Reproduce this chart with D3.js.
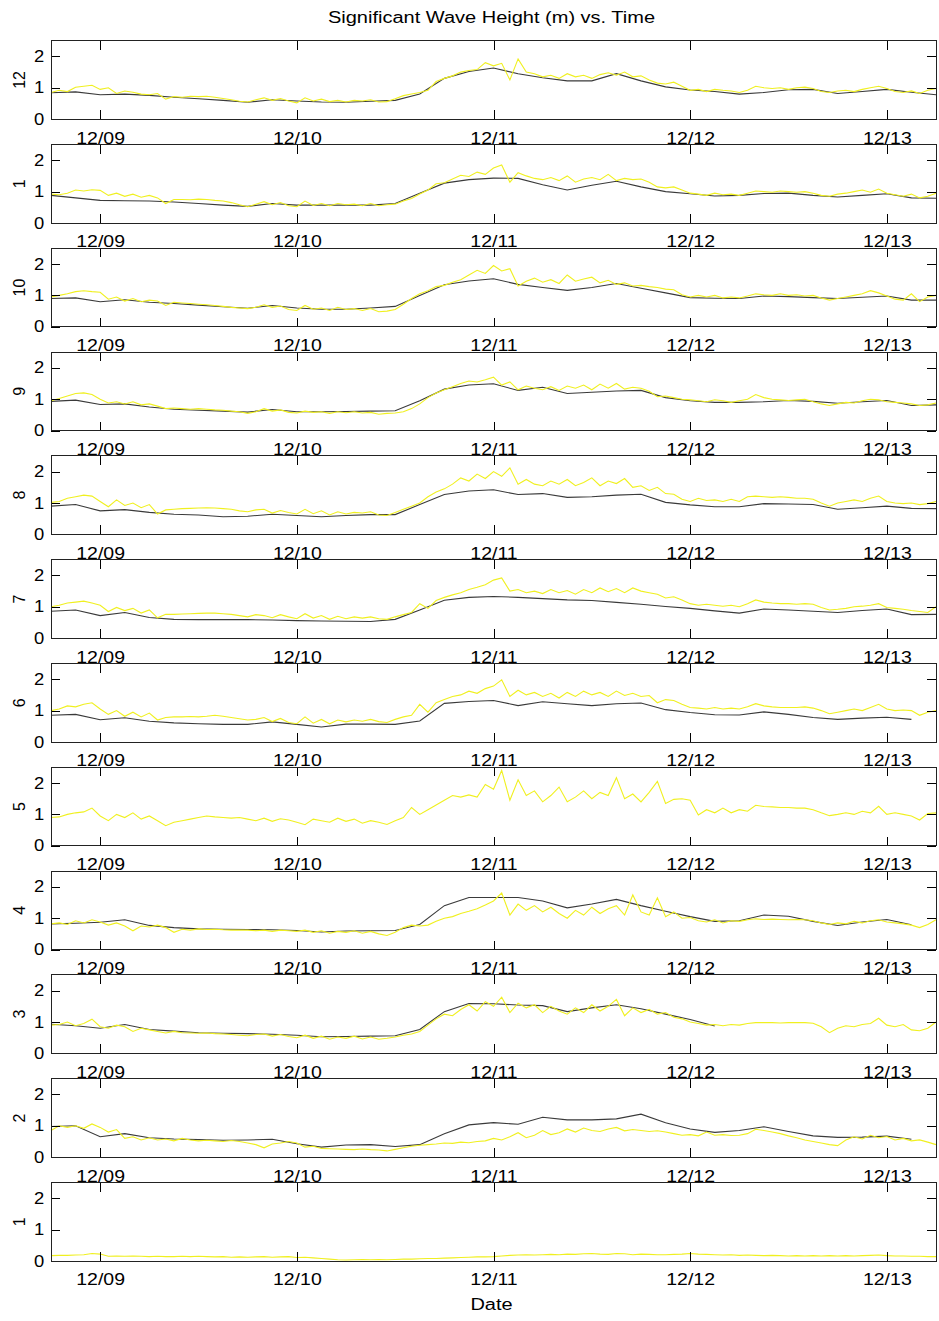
<!DOCTYPE html>
<html><head><meta charset="utf-8">
<script src="https://cdn.jsdelivr.net/npm/d3@7"></script>
<style>
body{margin:0;background:#fff}
svg{display:block}
text{font-family:"Liberation Sans",Arial,Helvetica,sans-serif}
</style>
</head><body>
<svg id="chart" width="939" height="1321"></svg>
<script>
// ---------- data ----------
const chartTitle = "Significant Wave Height (m) vs. Time";
const xAxisTitle = "Date";
const panelLabels = ["12","1","10","9","8","7","6","5","4","3","2","1"];
const xTickDates = ["2009-12-09","2009-12-10","2009-12-11","2009-12-12","2009-12-13"];
const xTickLabels = ["12/09","12/10","12/11","12/12","12/13"];
const yTickValues = [0, 1, 2];
const yTickLabels = ["0", "1", "2"];
const timeStart = "2009-12-08T18:00:00Z";
const timeEnd = "2009-12-13T06:00:00Z";
const obsStepHours = 1;   // observed (yellow) sampling
const modStepHours = 3;   // model (black) sampling

// panel "12"
const obs_p01 = [0.85,0.92,0.88,1.02,1.05,1.08,0.95,1.00,0.82,0.90,0.86,0.80,
 0.78,0.82,0.64,0.72,0.70,0.73,0.72,0.73,0.70,0.66,0.62,0.57,
 0.55,0.62,0.68,0.60,0.66,0.58,0.52,0.68,0.58,0.64,0.56,0.60,
 0.55,0.60,0.58,0.62,0.55,0.56,0.65,0.75,0.80,0.85,0.92,1.20,
 1.30,1.38,1.50,1.55,1.58,1.80,1.70,1.78,1.25,1.92,1.50,1.45,
 1.35,1.40,1.30,1.45,1.35,1.40,1.30,1.42,1.48,1.40,1.50,1.35,
 1.38,1.25,1.15,1.12,1.18,1.05,0.92,0.95,0.88,0.95,0.92,0.90,
 0.85,0.92,1.05,1.00,0.98,1.00,0.95,1.00,1.02,0.98,0.88,0.85,
 0.90,0.92,0.88,0.95,1.00,1.05,0.98,0.88,0.85,0.90,0.82,0.92,
 0.98];
const mod_p01 = [0.84,0.87,0.78,0.80,0.76,0.70,0.65,0.60,0.54,0.62,0.58,0.55,0.54,0.57,0.60,0.80,1.30,1.52,1.63,1.45,1.32,1.22,1.22,1.45,1.22,1.03,0.93,0.88,0.80,0.85,0.94,0.95,0.82,0.88,0.95,0.86,0.78];

// panel "1"
const obs_p02 = [0.92,0.90,0.95,1.05,1.02,1.06,1.04,0.88,0.95,0.85,0.92,0.82,
 0.88,0.80,0.62,0.75,0.75,0.74,0.76,0.75,0.72,0.70,0.65,0.58,
 0.52,0.60,0.68,0.58,0.65,0.55,0.52,0.70,0.56,0.62,0.55,0.62,
 0.58,0.60,0.55,0.62,0.55,0.58,0.60,0.70,0.78,0.92,1.05,1.25,
 1.28,1.40,1.52,1.48,1.62,1.55,1.75,1.85,1.30,1.60,1.50,1.42,
 1.38,1.45,1.35,1.50,1.30,1.40,1.45,1.38,1.55,1.35,1.42,1.38,
 1.40,1.30,1.15,1.12,1.15,1.05,0.95,0.92,0.88,0.95,0.90,0.92,
 0.88,0.95,1.02,1.00,0.98,1.02,1.00,0.98,1.00,0.95,0.88,0.85,
 0.92,0.95,1.00,1.05,0.98,1.08,0.95,0.90,0.85,0.92,0.80,0.85,
 0.95];
const mod_p02 = [0.88,0.80,0.72,0.71,0.70,0.67,0.62,0.57,0.53,0.62,0.57,0.57,0.57,0.57,0.62,0.95,1.27,1.38,1.43,1.42,1.22,1.05,1.20,1.33,1.15,1.00,0.93,0.86,0.88,0.94,0.95,0.88,0.83,0.88,0.93,0.80,0.79];

// panel "10"
const obs_p03 = [0.95,1.00,1.05,1.12,1.15,1.12,1.10,0.88,0.95,0.82,0.90,0.80,
 0.85,0.82,0.68,0.78,0.76,0.74,0.72,0.70,0.68,0.65,0.62,0.60,
 0.58,0.62,0.70,0.62,0.66,0.55,0.52,0.68,0.56,0.60,0.52,0.62,
 0.55,0.58,0.52,0.58,0.48,0.50,0.55,0.72,0.90,1.05,1.15,1.28,
 1.32,1.42,1.50,1.65,1.80,1.70,1.95,1.78,1.85,1.30,1.45,1.55,
 1.42,1.50,1.38,1.65,1.45,1.52,1.58,1.40,1.48,1.35,1.40,1.30,
 1.32,1.28,1.25,1.20,1.18,1.02,0.95,1.00,0.95,1.00,0.92,0.95,
 0.92,0.98,1.05,1.02,1.00,1.05,1.00,1.02,0.98,1.00,0.92,0.85,
 0.90,0.95,1.00,1.05,1.15,1.08,0.98,0.88,0.85,1.05,0.80,0.95,
 1.00];
const mod_p03 = [0.90,0.92,0.80,0.86,0.78,0.74,0.69,0.64,0.59,0.68,0.60,0.56,0.56,0.60,0.65,1.00,1.34,1.46,1.53,1.35,1.25,1.16,1.25,1.38,1.23,1.08,0.93,0.91,0.90,0.98,0.96,0.93,0.90,0.94,0.98,0.85,0.85];

// panel "9"
const obs_p04 = [0.95,1.02,1.10,1.18,1.20,1.15,1.00,0.88,0.92,0.85,0.92,0.82,
 0.85,0.78,0.70,0.72,0.70,0.68,0.70,0.68,0.66,0.65,0.62,0.60,
 0.55,0.60,0.70,0.62,0.66,0.58,0.56,0.62,0.58,0.60,0.55,0.60,
 0.57,0.60,0.56,0.58,0.52,0.55,0.56,0.60,0.70,0.85,1.05,1.20,
 1.30,1.40,1.50,1.58,1.55,1.62,1.70,1.45,1.55,1.30,1.42,1.35,
 1.30,1.40,1.28,1.42,1.35,1.45,1.30,1.48,1.35,1.50,1.32,1.38,
 1.35,1.25,1.08,1.10,1.05,1.00,0.98,0.95,0.92,0.98,0.95,0.90,
 0.95,1.00,1.15,1.05,1.00,0.98,0.96,0.98,1.00,0.92,0.85,0.80,
 0.85,0.90,0.88,0.95,1.00,0.98,0.92,0.90,0.88,0.85,0.80,0.82,
 0.88];
const mod_p04 = [0.93,0.97,0.83,0.85,0.75,0.68,0.65,0.62,0.59,0.67,0.60,0.60,0.61,0.62,0.63,0.95,1.32,1.45,1.49,1.28,1.38,1.18,1.22,1.26,1.28,1.05,0.95,0.90,0.90,0.92,0.96,0.93,0.87,0.92,0.96,0.80,0.82];

// panel "8"
const obs_p05 = [1.02,1.05,1.15,1.20,1.25,1.22,1.05,0.88,1.10,0.92,1.00,0.85,
 0.95,0.65,0.78,0.80,0.82,0.83,0.84,0.85,0.84,0.82,0.80,0.75,
 0.72,0.78,0.80,0.68,0.76,0.70,0.65,0.80,0.66,0.75,0.62,0.72,
 0.65,0.70,0.68,0.72,0.62,0.60,0.70,0.80,0.90,1.00,1.20,1.35,
 1.45,1.60,1.80,1.70,1.92,1.78,2.00,1.85,2.12,1.60,1.75,1.60,
 1.55,1.70,1.60,1.75,1.55,1.65,1.80,1.55,1.70,1.62,1.78,1.50,
 1.55,1.40,1.50,1.30,1.28,1.12,1.05,1.15,1.08,1.10,1.05,1.12,
 1.05,1.20,1.22,1.20,1.18,1.20,1.18,1.15,1.15,1.12,1.00,0.90,
 1.00,1.05,1.10,1.05,1.15,1.22,1.05,1.00,0.98,1.00,0.95,0.98,
 1.05];
const mod_p05 = [0.90,0.95,0.75,0.79,0.70,0.64,0.62,0.56,0.58,0.64,0.60,0.56,0.60,0.63,0.63,0.95,1.27,1.38,1.42,1.27,1.30,1.18,1.20,1.25,1.28,1.02,0.94,0.88,0.88,0.98,0.97,0.95,0.80,0.85,0.90,0.83,0.82];

// panel "7"
const obs_p06 = [1.00,1.05,1.12,1.15,1.18,1.12,1.05,0.85,0.98,0.88,0.95,0.80,
 0.90,0.65,0.76,0.76,0.77,0.78,0.79,0.80,0.80,0.78,0.76,0.72,
 0.68,0.75,0.72,0.65,0.75,0.68,0.62,0.78,0.64,0.72,0.60,0.70,
 0.62,0.68,0.64,0.68,0.62,0.60,0.68,0.75,0.82,1.10,0.95,1.20,
 1.30,1.38,1.45,1.55,1.62,1.70,1.85,1.92,1.50,1.55,1.45,1.50,
 1.42,1.55,1.45,1.52,1.40,1.55,1.45,1.60,1.48,1.58,1.45,1.60,
 1.50,1.45,1.40,1.28,1.32,1.22,1.10,1.05,1.08,1.05,1.02,1.05,
 1.00,1.10,1.22,1.15,1.12,1.10,1.10,1.08,1.10,1.08,0.98,0.90,
 0.92,0.95,1.00,1.02,1.05,1.10,0.98,0.95,0.92,0.88,0.85,0.82,
 1.00];
const mod_p06 = [0.86,0.90,0.72,0.82,0.66,0.60,0.59,0.59,0.59,0.58,0.56,0.55,0.54,0.53,0.60,0.90,1.21,1.30,1.33,1.30,1.26,1.22,1.20,1.14,1.08,1.01,0.95,0.87,0.80,0.93,0.90,0.86,0.82,0.88,0.93,0.75,0.76];

// panel "6"
const obs_p07 = [1.00,1.05,1.15,1.12,1.20,1.25,1.05,0.88,1.00,0.82,0.95,0.80,
 0.92,0.70,0.78,0.80,0.80,0.81,0.80,0.82,0.85,0.82,0.78,0.74,
 0.70,0.72,0.78,0.65,0.75,0.62,0.58,0.80,0.60,0.72,0.58,0.70,
 0.64,0.70,0.66,0.72,0.65,0.62,0.72,0.80,0.85,1.20,0.95,1.25,
 1.35,1.45,1.50,1.62,1.55,1.70,1.78,1.98,1.45,1.65,1.50,1.58,
 1.45,1.55,1.40,1.58,1.45,1.62,1.50,1.58,1.45,1.62,1.48,1.55,
 1.45,1.48,1.25,1.35,1.32,1.20,1.10,1.08,1.05,1.10,1.05,1.08,
 1.05,1.12,1.22,1.15,1.12,1.10,1.10,1.10,1.12,1.08,1.00,0.90,
 0.95,1.00,1.05,1.00,1.10,1.20,1.05,1.00,1.02,1.00,0.85,0.95,
 1.00];
const mod_p07 = [0.85,0.88,0.71,0.77,0.66,0.61,0.58,0.56,0.56,0.64,0.56,0.48,0.57,0.57,0.56,0.67,1.23,1.29,1.32,1.16,1.28,1.22,1.16,1.22,1.24,1.03,0.94,0.87,0.86,0.96,0.88,0.78,0.72,0.76,0.79,0.72,null];

// panel "5" (observed only)
const obs_p08 = [0.90,0.92,1.00,1.05,1.08,1.20,0.95,0.80,1.00,0.90,1.05,0.85,
 0.95,0.80,0.64,0.75,0.80,0.85,0.90,0.95,0.92,0.90,0.88,0.90,
 0.85,0.80,0.88,0.78,0.86,0.82,0.75,0.67,0.85,0.80,0.75,0.88,
 0.78,0.85,0.72,0.80,0.75,0.68,0.80,0.90,1.22,1.00,1.15,1.30,
 1.45,1.60,1.55,1.62,1.55,1.95,1.80,2.40,1.45,2.10,1.60,1.75,
 1.40,1.60,1.87,1.40,1.55,1.75,1.50,1.70,1.60,2.17,1.50,1.65,
 1.40,1.70,2.05,1.35,1.48,1.50,1.45,0.98,1.15,1.05,1.20,1.05,
 1.15,1.10,1.29,1.25,1.24,1.22,1.22,1.20,1.20,1.15,1.05,0.96,
 1.00,1.05,1.00,1.10,1.05,1.26,1.00,1.05,1.00,0.95,0.82,1.03,
 1.05];
const mod_p08 = [];

// panel "4"
const obs_p09 = [0.82,0.85,0.80,0.92,0.85,0.95,0.88,0.78,0.85,0.75,0.60,0.75,
 0.72,0.78,0.70,0.55,0.65,0.62,0.66,0.64,0.65,0.63,0.62,0.62,
 0.62,0.60,0.62,0.58,0.62,0.60,0.58,0.62,0.55,0.60,0.52,0.58,
 0.55,0.60,0.52,0.58,0.50,0.45,0.55,0.70,0.78,0.75,0.78,0.90,
 1.00,1.05,1.15,1.22,1.30,1.42,1.55,1.80,1.10,1.45,1.25,1.40,
 1.20,1.35,1.15,1.00,1.25,1.10,1.35,1.15,1.30,1.40,1.10,1.74,
 1.20,1.10,1.65,1.05,1.20,1.00,1.02,0.92,0.88,0.95,0.85,0.92,
 0.90,0.95,0.98,0.96,0.97,0.96,0.95,0.96,0.95,0.92,0.85,0.80,
 0.85,0.82,0.90,0.85,0.92,0.95,0.88,0.85,0.82,0.78,0.70,0.80,
 0.95];
const mod_p09 = [0.82,0.84,0.87,0.95,0.77,0.70,0.66,0.65,0.64,0.63,0.61,0.56,0.59,0.60,0.61,0.80,1.40,1.66,1.66,1.66,1.55,1.33,1.45,1.60,1.40,1.22,1.05,0.90,0.92,1.10,1.06,0.90,0.77,0.88,0.96,0.79,null];

// panel "3"
const obs_p10 = [0.90,0.92,1.00,0.88,0.95,1.09,0.85,0.80,0.90,0.85,0.70,0.80,
 0.75,0.70,0.65,0.70,0.66,0.65,0.64,0.65,0.63,0.62,0.60,0.58,
 0.56,0.60,0.62,0.55,0.60,0.54,0.50,0.58,0.48,0.55,0.45,0.52,
 0.48,0.55,0.46,0.52,0.45,0.48,0.52,0.58,0.62,0.70,0.90,1.10,
 1.25,1.20,1.40,1.55,1.35,1.65,1.50,1.79,1.30,1.60,1.45,1.55,
 1.30,1.50,1.35,1.25,1.45,1.30,1.55,1.35,1.50,1.72,1.20,1.45,
 1.30,1.40,1.25,1.30,1.15,1.10,1.00,0.95,0.90,0.92,0.88,0.92,
 0.90,0.95,0.98,0.98,0.98,0.97,0.98,0.98,0.98,0.96,0.85,0.66,
 0.80,0.88,0.85,0.92,0.95,1.12,0.90,0.85,0.92,0.75,0.72,0.80,
 1.00];
const mod_p10 = [0.93,0.88,0.80,0.92,0.76,0.71,0.66,0.64,0.63,0.61,0.58,0.53,0.54,0.55,0.56,0.76,1.33,1.59,1.58,1.54,1.52,1.33,1.45,1.55,1.42,1.25,1.08,0.87,null,null,null,null,null,null,null,null,null];

// panel "2"
const obs_p11 = [0.85,1.00,0.95,1.00,0.92,1.06,0.95,0.80,0.88,0.60,0.65,0.55,
 0.62,0.55,0.58,0.52,0.60,0.55,0.52,0.54,0.52,0.50,0.53,0.50,
 0.45,0.40,0.30,0.42,0.45,0.50,0.45,0.32,0.35,0.28,0.27,0.26,
 0.25,0.24,0.26,0.24,0.23,0.20,0.25,0.30,0.35,0.38,0.40,0.42,
 0.45,0.44,0.48,0.46,0.50,0.52,0.60,0.55,0.65,0.78,0.62,0.70,
 0.85,0.72,0.78,0.90,0.80,0.93,0.85,0.82,0.90,0.95,0.84,0.88,
 0.85,0.82,0.84,0.80,0.75,0.70,0.72,0.68,0.80,0.70,0.72,0.69,
 0.70,0.75,0.89,0.85,0.80,0.75,0.68,0.62,0.55,0.50,0.45,0.40,
 0.37,0.55,0.65,0.58,0.70,0.62,0.66,0.55,0.60,0.52,0.55,0.48,
 0.40];
const mod_p11 = [0.98,1.00,0.65,0.75,0.62,0.58,0.56,0.54,0.55,0.57,0.43,0.32,0.39,0.40,0.34,0.40,0.75,1.03,1.10,1.05,1.27,1.19,1.19,1.22,1.37,1.10,0.90,0.79,0.85,0.97,0.82,0.68,0.63,0.64,0.67,0.57,null];

// panel "1" (observed only)
const obs_p12 = [0.17,0.18,0.18,0.19,0.20,0.24,0.22,0.15,0.16,0.15,0.16,0.15,
 0.14,0.15,0.14,0.14,0.15,0.14,0.15,0.14,0.13,0.14,0.12,0.13,
 0.12,0.13,0.14,0.12,0.13,0.14,0.11,0.12,0.10,0.08,0.06,0.04,
 0.03,0.04,0.05,0.04,0.05,0.04,0.05,0.06,0.06,0.07,0.08,0.08,
 0.09,0.10,0.11,0.12,0.13,0.13,0.14,0.16,0.18,0.19,0.20,0.19,
 0.20,0.21,0.20,0.22,0.21,0.23,0.24,0.22,0.21,0.24,0.23,0.20,
 0.22,0.21,0.20,0.20,0.21,0.22,0.24,0.22,0.21,0.20,0.19,0.20,
 0.18,0.19,0.18,0.17,0.18,0.17,0.16,0.17,0.16,0.17,0.16,0.17,
 0.16,0.17,0.16,0.17,0.18,0.19,0.17,0.16,0.16,0.15,0.15,0.14,
 0.14];
const mod_p12 = [];

// ---------- drawing ----------
const panels = [
  {label: panelLabels[0],  obs: obs_p01, mod: mod_p01},
  {label: panelLabels[1],  obs: obs_p02, mod: mod_p02},
  {label: panelLabels[2],  obs: obs_p03, mod: mod_p03},
  {label: panelLabels[3],  obs: obs_p04, mod: mod_p04},
  {label: panelLabels[4],  obs: obs_p05, mod: mod_p05},
  {label: panelLabels[5],  obs: obs_p06, mod: mod_p06},
  {label: panelLabels[6],  obs: obs_p07, mod: mod_p07},
  {label: panelLabels[7],  obs: obs_p08, mod: mod_p08},
  {label: panelLabels[8],  obs: obs_p09, mod: mod_p09},
  {label: panelLabels[9],  obs: obs_p10, mod: mod_p10},
  {label: panelLabels[10], obs: obs_p11, mod: mod_p11},
  {label: panelLabels[11], obs: obs_p12, mod: mod_p12}
];

const svg = d3.select("#chart");
const plotLeft = 51, plotRight = 936;
const top0 = 40.7, pitch = 103.8, panelH = 78.5;
const HOUR = 3600000;
const t0 = new Date(timeStart).getTime();

const x = d3.scaleUtc()
  .domain([new Date(timeStart), new Date(timeEnd)])
  .range([plotLeft, plotRight]);
const xTicks = xTickDates.map(d => new Date(d + "T00:00:00Z"));
const xFmt = (d, i) => xTickLabels[i];

const series = (arr, stepH) => arr.map((v, k) => ({t: new Date(t0 + k * stepH * HOUR), v}));

panels.forEach((p, i) => {
  const top = top0 + i * pitch;
  const y = d3.scaleLinear().domain([0, 2.5]).range([top + panelH, top]);
  const g = svg.append("g");

  const line = d3.line().defined(d => d.v != null).x(d => x(d.t)).y(d => y(d.v));

  if (p.mod.length) {
    g.append("path").datum(series(p.mod, modStepHours))
      .attr("d", line).attr("fill", "none")
      .attr("stroke", "#3a3a3a").attr("stroke-width", 1.1);
  }
  g.append("path").datum(series(p.obs, obsStepHours))
    .attr("d", line).attr("fill", "none")
    .attr("stroke", "#f0f020").attr("stroke-width", 1.1);

  // axes with inward ticks
  const styleAxis = sel => {
    sel.select(".domain").remove();
    sel.selectAll("line").attr("stroke", "#000").attr("shape-rendering", "crispEdges");
    sel.attr("font-size", 16).attr("font-family", '"Liberation Sans", Arial, sans-serif');
    sel.selectAll("text").attr("fill", "#000");
  };

  const gb = g.append("g").attr("transform", `translate(0,${top + panelH})`)
    .call(d3.axisBottom(x).tickValues(xTicks).tickFormat(xFmt)
      .tickSizeInner(-9).tickSizeOuter(0).tickPadding(13));
  styleAxis(gb);
  gb.selectAll("text").attr("transform", "scale(1.22,1)");

  const gt = g.append("g").attr("transform", `translate(0,${top})`)
    .call(d3.axisTop(x).tickValues(xTicks).tickFormat("")
      .tickSizeInner(-9).tickSizeOuter(0));
  styleAxis(gt);

  const gl = g.append("g").attr("transform", `translate(${plotLeft},0)`)
    .call(d3.axisLeft(y).tickValues(yTickValues).tickFormat((d, k) => yTickLabels[k])
      .tickSizeInner(-9).tickSizeOuter(0).tickPadding(6));
  styleAxis(gl);
  gl.selectAll("text").attr("transform", "scale(1.15,1)");

  const gr = g.append("g").attr("transform", `translate(${plotRight},0)`)
    .call(d3.axisRight(y).tickValues(yTickValues).tickFormat("")
      .tickSizeInner(-9).tickSizeOuter(0));
  styleAxis(gr);

  g.append("rect")
    .attr("x", plotLeft).attr("y", top)
    .attr("width", plotRight - plotLeft).attr("height", panelH)
    .attr("fill", "none").attr("stroke", "#222").attr("stroke-width", 1)
    .attr("shape-rendering", "crispEdges");

  g.append("text")
    .attr("transform", `translate(24.5,${top + panelH / 2}) rotate(-90)`)
    .attr("text-anchor", "middle").attr("font-size", 16)
    .text(p.label);
});

svg.append("text")
  .attr("transform", `translate(${(plotLeft + plotRight) / 2 - 2},23) scale(1.25,1)`)
  .attr("text-anchor", "middle").attr("font-size", 16)
  .text(chartTitle);

svg.append("text")
  .attr("transform", `translate(${(plotLeft + plotRight) / 2 - 2},1310) scale(1.25,1)`)
  .attr("text-anchor", "middle").attr("font-size", 16)
  .text(xAxisTitle);
</script>
</body></html>
